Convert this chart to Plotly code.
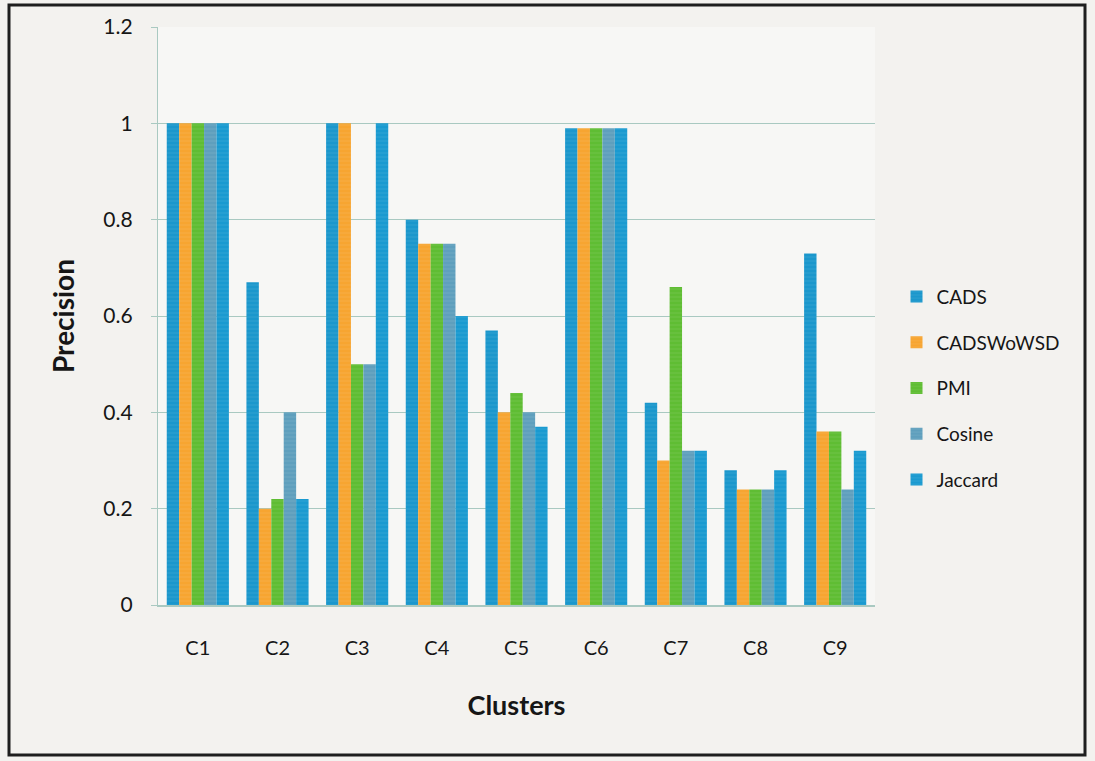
import plotly.graph_objects as go

clusters = ["C1", "C2", "C3", "C4", "C5", "C6", "C7", "C8", "C9"]
cads = [1.0, 0.67, 1.0, 0.80, 0.57, 0.99, 0.42, 0.28, 0.73]
cadswowsd = [1.0, 0.20, 1.0, 0.75, 0.40, 0.99, 0.30, 0.24, 0.36]
pmi = [1.0, 0.22, 0.50, 0.75, 0.44, 0.99, 0.66, 0.24, 0.36]
cosine = [1.0, 0.40, 0.50, 0.75, 0.40, 0.99, 0.32, 0.24, 0.24]
jaccard = [1.0, 0.22, 1.0, 0.60, 0.37, 0.99, 0.32, 0.28, 0.32]

series = [
    ("CADS", cads, "#1b97cc"),
    ("CADSWoWSD", cadswowsd, "#f7a531"),
    ("PMI", pmi, "#5fbd33"),
    ("Cosine", cosine, "#5f9fbd"),
    ("Jaccard", jaccard, "#1a9ad0"),
]

FONT = "Lato, 'Open Sans', sans-serif"

fig = go.Figure()
for name, vals, color in series:
    fig.add_trace(go.Bar(
        name=name, x=clusters, y=vals, legendgroup=name,
        marker=dict(color=color, line=dict(width=0),
                    pattern=dict(shape="-", fgcolor="rgba(255,255,255,0.18)",
                                 size=4, solidity=0.25)),
    ))

L, R, T, B = 158, 220, 27, 156
W, H = 1095, 761
pw, ph = W - L - R, H - T - B

fig.update_layout(
    width=W, height=H,
    paper_bgcolor="#f3f2ef", plot_bgcolor="#f7f7f5",
    margin=dict(l=L, r=R, t=T, b=B),
    barmode="group", bargap=0.22, bargroupgap=0,
    font=dict(family=FONT, color="#161616"),
    showlegend=True,
    legend=dict(x=1.03, y=0.375, xanchor="left", yanchor="middle",
                font=dict(size=19, family=FONT), tracegroupgap=18,
                itemwidth=30, bgcolor="rgba(0,0,0,0)"),
    xaxis=dict(
        tickfont=dict(size=20), showgrid=False, ticks="",
        ticklabelstandoff=24,
        showline=True, linecolor="#a9c9c1", linewidth=1.5,
        title=dict(text="<b>Clusters</b>", font=dict(size=27), standoff=38),
    ),
    yaxis=dict(
        range=[0, 1.2], dtick=0.2, tickformat="~g",
        tickfont=dict(size=21), ticks="outside", ticklen=6, tickcolor="#a9c9c1",
        ticklabelstandoff=14,
        showgrid=True, gridcolor="#a9c9c1", gridwidth=1.2,
        showline=True, linecolor="#a9c9c1", linewidth=1.2,
        zeroline=False,
        title=dict(text="<b>Precision</b>", font=dict(size=28), standoff=20),
    ),
    # outer frame around the whole chart
    shapes=[dict(type="rect", xref="paper", yref="paper",
                 x0=(9 - L) / pw, x1=(1085 - L) / pw,
                 y0=(H - B - 755) / ph, y1=(H - B - 5) / ph,
                 line=dict(color="#1e1e1e", width=3))],
)

fig.write_html("out.html")
